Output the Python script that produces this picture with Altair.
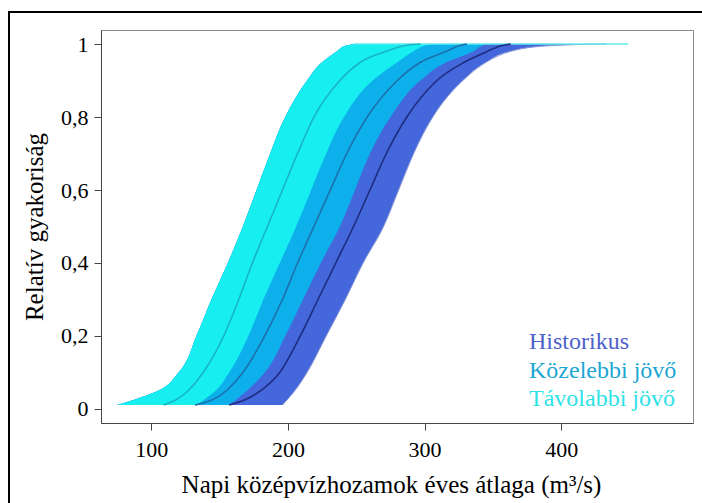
import altair as alt
import pandas as pd

# Cumulative probability levels at which the curve bundles are described
P = [0.011, 0.05, 0.1, 0.2, 0.3, 0.4, 0.5, 0.6, 0.7, 0.8, 0.9, 0.95, 0.98, 0.995, 1.0]

# Távolabbi jövő: left envelope, median curve, right envelope (m3/s)
TAV_LO = [75, 105, 120, 133, 144, 156, 167, 177, 187, 198, 214, 225, 236, 242, 248]
TAV_MED = [109, 127, 138, 153, 164, 174, 185, 196, 207, 219, 238, 253, 272, 285, 297]
TAV_HI = [133, 147, 157, 171, 182, 194, 206, 217, 228, 241, 262, 280, 292, 300, 305]

# Közelebbi jövő: median curve, right envelope
KOZ_MED = [132, 155, 167, 183, 196, 207, 219, 231, 243, 258, 280, 297, 316, 325, 331]
KOZ_HI = [157, 170, 183, 198, 211, 224, 238, 249, 260, 275, 297, 316, 336, 342, 345]

# Historikus: median curve, right envelope
HIST_MED = [157, 180, 194, 209, 222, 235, 248, 260, 272, 287, 309, 329, 346, 356, 363]
HIST_HI = [196, 205, 214, 228, 242, 255, 270, 281, 292, 306, 328, 345, 363, 390, 433]

# Largest single value of the Távolabbi jövő runs
TAV_MAX = [449]

GROUPS = ["Historikus", "Közelebbi jövő", "Távolabbi jövő"]
BAND_COLORS = ["#4467dc", "#0eb0ec", "#16eef0"]
MED_COLORS = ["#1f2c7e", "#1b70ac", "#18b4c0"]
TEXT_COLORS = ["#4d60cc", "#1ba6d4", "#2fe2e6"]


def frame(med, hi):
    # every band is filled from the overall left envelope; later bands cover earlier ones
    return pd.DataFrame({"p": P, "lo": TAV_LO, "med": med, "hi": hi})


frames = [frame(HIST_MED, HIST_HI),
          frame(KOZ_MED, KOZ_HI),
          frame(TAV_MED, TAV_HI)]

FONT = "Liberation Serif"

xscale = alt.Scale(domain=[63.2, 496.4], nice=False, zero=False)
xaxis = alt.Axis(
    values=[100, 200, 300, 400], title="Napi középvízhozamok éves átlaga (m³/s)",
    titleX=290, titleY=69, titleBaseline="alphabetic", titleAlign="center",
    labelPadding=9,
)
yscale = alt.Scale(domain=[-0.0384, 1.0384], nice=False, zero=False)
yaxis = alt.Axis(
    values=[0, 0.2, 0.4, 0.6, 0.8, 1],
    labelExpr="replace(format(datum.value, '.1~f'), '.', ',')",
    title="Relatív gyakoriság", titleX=-54, titleY=196.5,
    titleBaseline="bottom", titleAngle=-90, titleAlign="center",
    labelPadding=6,
)


def xf(field):
    return alt.X(field, scale=xscale, axis=xaxis)


yenc = alt.Y("p:Q", scale=yscale, axis=yaxis)

layers = []

# outer frame around the figure
layers.append(
    alt.Chart(pd.DataFrame({"k": [0]})).mark_rect(
        fillOpacity=0, stroke="black", strokeWidth=2
    ).encode(x=alt.value(-92), x2=alt.value(612), y=alt.value(-18), y2=alt.value(485))
)

# bands, drawn historic first so later scenarios lie on top
for df, col in zip(frames, BAND_COLORS):
    layers.append(
        alt.Chart(df).mark_area(orient="horizontal", interpolate="monotone", color=col).encode(
            y=yenc, x=xf("lo:Q"), x2="hi:Q"
        )
    )
    if col == BAND_COLORS[0]:
        # pale outline of the outermost historic runs
        layers.append(
            alt.Chart(df).mark_line(interpolate="monotone", color="#8b98d4", strokeWidth=1).encode(
                x=xf("hi:Q"), y=yenc, order="p:Q"
            )
        )

# single far-reaching Távolabbi jövő run along the top
layers.append(
    alt.Chart(pd.DataFrame({"lo": [TAV_LO[-1]], "hi": TAV_MAX, "p": [1.0]})).mark_rule(
        color="#5fe9ee", strokeWidth=1.5
    ).encode(x=xf("lo:Q"), x2="hi:Q", y=yenc)
)

# median curves
for df, col in zip(frames, MED_COLORS):
    layers.append(
        alt.Chart(df).mark_line(interpolate="monotone", color=col, strokeWidth=1.6).encode(
            x=xf("med:Q"), y=yenc, order="p:Q"
        )
    )

# scenario labels
for i, (name, col) in enumerate(zip(GROUPS, TEXT_COLORS)):
    layers.append(
        alt.Chart(pd.DataFrame({"name": [name]})).mark_text(
            align="left", baseline="alphabetic", font=FONT, fontSize=24, color=col
        ).encode(text="name:N", x=alt.value(428), y=alt.value(319 + 28.5 * i))
    )

chart = alt.layer(*layers).properties(
    width=592,
    height=393,
    padding={"left": 101, "top": 30, "right": 9, "bottom": 80},
    autosize=alt.AutoSizeParams(type="none"),
    background="white",
).configure_view(
    stroke="#8a8a8a", strokeWidth=1
).configure_axis(
    grid=False,
    domainColor="#444444",
    tickColor="#444444",
    tickSize=7,
    labelFont=FONT,
    labelFontSize=22,
    labelColor="black",
    titleFont=FONT,
    titleFontSize=25,
    titleFontWeight="normal",
    titleColor="black",
)

chart.save("out.html", embed_options={"renderer": "svg", "actions": False})
